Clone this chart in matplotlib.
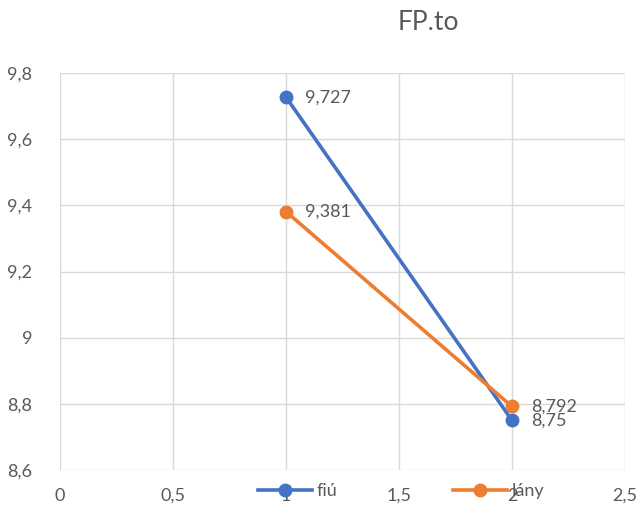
import matplotlib
matplotlib.use("Agg")
import matplotlib.pyplot as plt
from matplotlib.ticker import FuncFormatter

plt.rcParams["font.family"] = ["Lato", "DejaVu Sans"]

# data
x_vals = [1, 2]
fiu = [9.727, 8.75]
lany = [9.381, 8.792]
fiu_labels = ["9,727", "8,75"]
lany_labels = ["9,381", "8,792"]
series_names = ["fiú", "lány"]

BLUE = "#4472C4"; ORANGE = "#ED7D31"; GRID = "#D9D9D9"; TXT = "#595959"

fig = plt.figure(figsize=(6.4, 5.08), dpi=100)
ax = fig.add_axes([60 / 640, 1 - 470 / 508, 565 / 640, 397 / 508])

l1, = ax.plot(x_vals, fiu, color=BLUE, lw=2.6, marker="o", ms=9, label=series_names[0])
l2, = ax.plot(x_vals, lany, color=ORANGE, lw=2.6, marker="o", ms=9, label=series_names[1])

for xs, ys, labs in [(x_vals, fiu, fiu_labels), (x_vals, lany, lany_labels)]:
    for xv, yv, s in zip(xs, ys, labs):
        ax.annotate(s, (xv, yv), xytext=(14, 0), textcoords="offset points",
                    ha="left", va="center", fontsize=13, color=TXT)

ax.set_xlim(0, 2.5)
ax.set_ylim(8.6, 9.8)
ax.set_xticks([0, 0.5, 1, 1.5, 2, 2.5])
ax.set_yticks([8.6, 8.8, 9.0, 9.2, 9.4, 9.6, 9.8])
fmt = FuncFormatter(lambda v, p: ("%g" % round(v, 2)).replace(".", ","))
ax.xaxis.set_major_formatter(fmt)
ax.yaxis.set_major_formatter(fmt)
ax.grid(True, color=GRID, lw=1)
ax.set_axisbelow(True)
for s in ax.spines.values():
    s.set_visible(False)
ax.tick_params(length=0, labelsize=13, labelcolor=TXT)
ax.tick_params(axis="x", pad=13)
ax.tick_params(axis="y", pad=20)

fig.text(428 / 640, 1 - 22 / 508, "FP.to", fontsize=19, color=TXT, ha="center", va="center")

fig.legend(handles=[l1, l2], loc="center", bbox_to_anchor=(401 / 640, 1 - 491 / 508),
           ncol=2, frameon=False, fontsize=13, labelcolor=TXT, handlelength=3,
           columnspacing=6.4, handletextpad=0.25)

fig.savefig("out.png", dpi=100)
